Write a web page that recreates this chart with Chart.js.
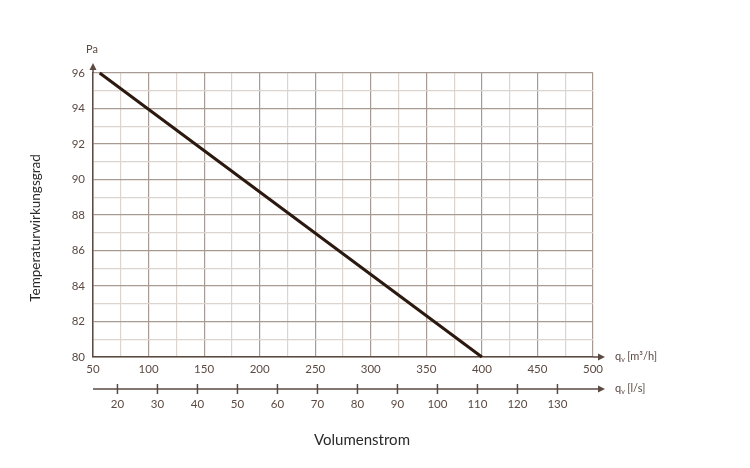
<!DOCTYPE html>
<html>
<head>
<meta charset="utf-8">
<script src="https://cdn.jsdelivr.net/npm/chart.js@4/dist/chart.umd.min.js"></script>
<style>
  html, body { margin: 0; padding: 0; background: #fff; }
  #wrap { width: 750px; height: 468px; }
</style>
</head>
<body>
<div id="wrap"><canvas id="c" width="750" height="468"></canvas></div>
<script>
// data
const flowM3h = [56, 400];          // volume flow, m3/h
const efficiency = [96, 80];        // temperature efficiency
const xTicksM3h = [50, 75, 100, 125, 150, 175, 200, 225, 250, 275, 300, 325, 350, 375, 400, 425, 450, 475, 500];
const yTicks = [80, 81, 82, 83, 84, 85, 86, 87, 88, 89, 90, 91, 92, 93, 94, 95, 96];
const xTicksLs = [20, 30, 40, 50, 60, 70, 80, 90, 100, 110, 120, 130];

const AXIS = '#5b4a42';
const GRID_MAJOR = '#a79a93';
const GRID_MINOR = '#dcd4cf';
const LINE = '#2b190f';
const TEXT = '#5b4a42';
const FONT = 'Lato';

// arrows, second axis line, extra labels
const decorations = {
  id: 'decorations',
  afterDraw(chart) {
    const ctx = chart.ctx;
    const area = chart.chartArea;
    const x2 = chart.scales.x2;
    ctx.save();
    ctx.strokeStyle = AXIS;
    ctx.fillStyle = AXIS;
    ctx.lineWidth = 1.5;

    // y axis extension with arrow
    ctx.beginPath();
    ctx.moveTo(area.left, area.top);
    ctx.lineTo(area.left, area.top - 6);
    ctx.stroke();
    arrow(ctx, area.left, area.top - 10, 'up');

    // x axis extension with arrow
    ctx.beginPath();
    ctx.moveTo(area.right, area.bottom);
    ctx.lineTo(area.right + 8, area.bottom);
    ctx.stroke();
    arrow(ctx, area.right + 12, area.bottom, 'right');

    // second (l/s) axis
    const y2 = x2.top;
    ctx.beginPath();
    ctx.moveTo(area.left, y2);
    ctx.lineTo(area.right + 8, y2);
    ctx.stroke();
    arrow(ctx, area.right + 12, y2, 'right');
    xTicksLs.forEach(v => {
      const px = x2.getPixelForValue(v);
      ctx.beginPath();
      ctx.moveTo(px, y2 - 5);
      ctx.lineTo(px, y2 + 5);
      ctx.stroke();
    });

    // labels
    ctx.textBaseline = 'middle';
    ctx.fillStyle = TEXT;
    ctx.font = '11px ' + FONT;
    ctx.textAlign = 'center';
    ctx.fillText('Pa', area.left - 1, 49);

    unitLabel(ctx, area.right + 22, area.bottom, '[m³/h]');
    unitLabel(ctx, area.right + 22, y2, '[l/s]');

    ctx.fillStyle = '#2a2a2a';
    ctx.font = '15px ' + FONT;
    ctx.textAlign = 'center';
    ctx.fillText('Volumenstrom', 362, 440);

    ctx.save();
    ctx.translate(36, 228);
    ctx.rotate(-Math.PI / 2);
    ctx.font = '13.5px ' + FONT;
    ctx.fillText('Temperaturwirkungsgrad', 0, 0);
    ctx.restore();

    ctx.restore();
  }
};

function arrow(ctx, x, y, dir) {
  ctx.beginPath();
  if (dir === 'up') {
    ctx.moveTo(x, y);
    ctx.lineTo(x - 3.5, y + 7);
    ctx.lineTo(x + 3.5, y + 7);
  } else {
    ctx.moveTo(x, y);
    ctx.lineTo(x - 7, y - 3.5);
    ctx.lineTo(x - 7, y + 3.5);
  }
  ctx.closePath();
  ctx.fill();
}

function unitLabel(ctx, x, y, unit) {
  ctx.textAlign = 'left';
  ctx.font = '11px ' + FONT;
  ctx.fillText('q', x, y - 1);
  const w = ctx.measureText('q').width;
  ctx.font = '7px ' + FONT;
  ctx.fillText('v', x + w, y + 3);
  ctx.font = '11px ' + FONT;
  ctx.fillText(unit, x + w + 6, y - 1);
}

const gridColor = (ctx, step) => {
  const v = ctx.tick ? ctx.tick.value : 0;
  return Math.round(v / step) * step === v ? GRID_MAJOR : GRID_MINOR;
};

new Chart(document.getElementById('c'), {
  type: 'scatter',
  data: {
    datasets: [{
      data: flowM3h.map((x, i) => ({ x: x, y: efficiency[i] })),
      showLine: true,
      borderColor: LINE,
      borderWidth: 3,
      pointRadius: 0,
      clip: false,
      xAxisID: 'x',
      yAxisID: 'y'
    }]
  },
  options: {
    responsive: false,
    animation: false,
    events: [],
    layout: { padding: { left: 0, top: 73, right: 157, bottom: 0 } },
    plugins: { legend: { display: false }, tooltip: { enabled: false } },
    scales: {
      x: {
        type: 'linear',
        position: 'bottom',
        min: 50,
        max: 500,
        afterBuildTicks: s => { s.ticks = xTicksM3h.map(v => ({ value: v })); },
        afterFit: s => { s.height = 32; },
        ticks: {
          autoSkip: false,
          maxRotation: 0,
          padding: 5,
          color: TEXT,
          font: { family: FONT, size: 11.5 },
          callback: v => (v % 50 === 0 ? String(v) : '')
        },
        grid: {
          color: c => gridColor(c, 50),
          lineWidth: 1.2,
          drawTicks: false
        },
        border: { color: AXIS, width: 1.5 }
      },
      x2: {
        type: 'linear',
        position: 'bottom',
        min: 50 / 3.6,
        max: 500 / 3.6,
        afterBuildTicks: s => { s.ticks = xTicksLs.map(v => ({ value: v })); },
        afterFit: s => { s.height = 468 - 389; },
        ticks: {
          autoSkip: false,
          maxRotation: 0,
          padding: 8,
          color: TEXT,
          font: { family: FONT, size: 11.5 }
        },
        grid: { display: false, drawTicks: false },
        border: { display: false }
      },
      y: {
        type: 'linear',
        position: 'left',
        min: 80,
        max: 96,
        afterBuildTicks: s => { s.ticks = yTicks.map(v => ({ value: v })); },
        afterFit: s => { s.width = 93; },
        ticks: {
          autoSkip: false,
          padding: 8,
          color: TEXT,
          font: { family: FONT, size: 11.5 },
          callback: v => (v % 2 === 0 ? String(v) : '')
        },
        grid: {
          color: c => gridColor(c, 2),
          lineWidth: 1.2,
          drawTicks: false
        },
        border: { color: AXIS, width: 1.5 }
      }
    }
  },
  plugins: [decorations]
});
</script>
</body>
</html>
